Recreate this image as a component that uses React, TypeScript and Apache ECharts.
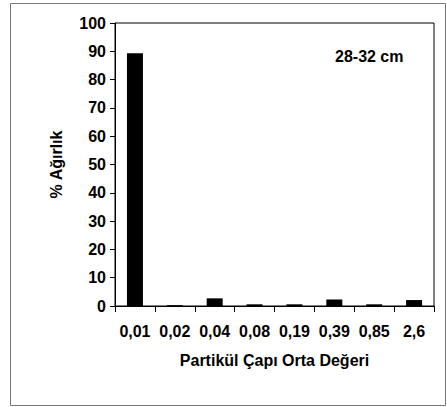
import React, { useEffect, useRef } from "react";
import * as echarts from "echarts";

const categories = ["0,01", "0,02", "0,04", "0,08", "0,19", "0,39", "0,85", "2,6"];
const weights = [89.3, 0.3, 2.7, 0.6, 0.6, 2.3, 0.6, 2.1];
const yTicks = [0, 10, 20, 30, 40, 50, 60, 70, 80, 90, 100];
const depthLabel = "28-32 cm";
const xName = "Partikül Çapı Orta Değeri";
const yName = "% Ağırlık";

export default function App() {
  const ref = useRef<HTMLDivElement>(null);
  useEffect(() => {
    document.body.style.margin = "0";
    const chart = echarts.init(ref.current!, null, { renderer: "svg" });
    const font = "Liberation Sans, Arial, sans-serif";
    const fs = 16;
    chart.setOption({
      animation: false,
      backgroundColor: "#ffffff",
      grid: {
        left: 115,
        top: 23,
        width: 319,
        height: 283,
        show: true,
        borderColor: "#000",
        borderWidth: 1,
        backgroundColor: "transparent",
      },
      graphic: [
        {
          type: "rect",
          shape: { x: 10.5, y: 3.5, width: 435, height: 402 },
          style: { fill: "none", stroke: "#777", lineWidth: 1 },
          z: -1,
        },
        {
          type: "text",
          left: 335,
          top: 48,
          style: {
            text: depthLabel,
            font: `bold ${fs}px ${font}`,
            fill: "#000",
          },
        },
      ],
      xAxis: {
        type: "category",
        data: categories,
        boundaryGap: true,
        name: xName,
        nameLocation: "middle",
        nameGap: 46,
        nameTextStyle: { fontFamily: font, fontWeight: "bold", fontSize: fs, color: "#000" },
        axisLine: { lineStyle: { color: "#000", width: 1 } },
        axisTick: { show: true, alignWithLabel: false, length: 6, lineStyle: { color: "#000" }, interval: 0 },
        axisLabel: {
          interval: 0,
          margin: 17,
          fontFamily: font,
          fontWeight: "bold",
          fontSize: fs,
          color: "#000",
        },
      },
      yAxis: {
        type: "value",
        min: 0,
        max: 100,
        interval: 10,
        name: yName,
        nameLocation: "middle",
        nameGap: 51,
        nameRotate: 90,
        nameTextStyle: { fontFamily: font, fontWeight: "bold", fontSize: fs, color: "#000" },
        axisLine: { show: true, lineStyle: { color: "#000", width: 1 } },
        axisTick: { show: true, inside: false, length: 5, lineStyle: { color: "#000" } },
        splitLine: { show: false },
        axisLabel: {
          margin: 9,
          fontFamily: font,
          fontWeight: "bold",
          fontSize: fs,
          color: "#000",
          formatter: (v: number) => (yTicks.includes(v) ? String(v) : ""),
        },
      },
      series: [
        {
          type: "bar",
          data: weights,
          barWidth: 16,
          itemStyle: { color: "#000" },
        },
      ],
    });
    return () => chart.dispose();
  }, []);
  return (
    <div
      ref={ref}
      style={{ width: 447, height: 407, position: "absolute", left: 0, top: 0 }}
    />
  );
}
